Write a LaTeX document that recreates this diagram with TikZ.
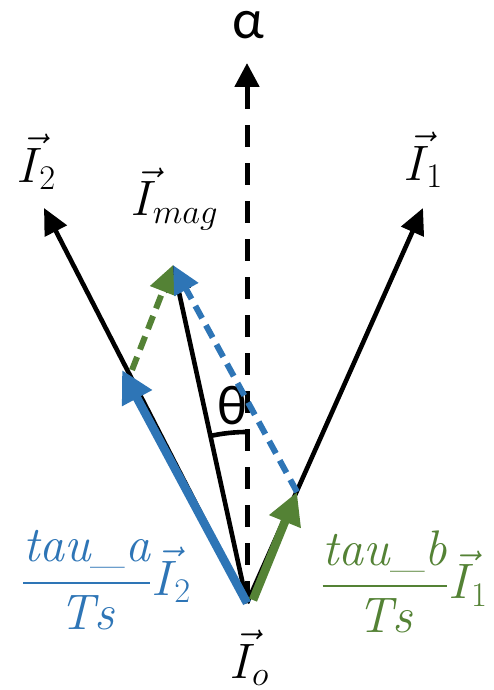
\documentclass[tikz,border=0pt]{standalone}
\usepackage{fontspec}
\usepackage{amsmath}
\usetikzlibrary{arrows.meta}
\newfontfamily\greekfont{Carlito}
\definecolor{cBlue}{HTML}{2E75B6}
\definecolor{cGreen}{HTML}{548235}

\begin{document}
\begin{tikzpicture}[x=0.5pt, y=0.5pt,
    vec/.style={line width=2.3pt, -{Triangle[length=13pt, width=12pt]}},
    comp/.style={line width=4.3pt, -{Triangle[length=16pt, width=16pt]}},
    part/.style={line width=3pt, dash pattern=on 7pt off 4pt, -{Triangle[length=14pt, width=13pt]}},
    lbl/.style={font=\fontsize{25}{28}\selectfont, inner sep=0pt},
    greek/.style={font=\greekfont\fontsize{28}{30}\selectfont, inner sep=0pt}]
  \useasboundingbox (0,0) rectangle (493,690);

  % Points of the vectors
  \coordinate (io) at (247,87);
  \coordinate (alpha) at (247,627);
  \coordinate (i2) at (44,482);
  \coordinate (i1) at (423,482);
  \coordinate (imag) at (173,425);
  \coordinate (ta) at (122,320);
  \coordinate (tb) at (297,198);
  \coordinate (gs) at (132,320);
  \coordinate (gb) at (253,90);

  % Axis alpha
  \draw[line width=2.5pt, dash pattern=on 11pt off 8pt, -{Triangle[length=12pt, width=12pt]}]
    (io) -- (alpha);
  \node[greek] (lalpha) at (248,665) {α};

  % Voltage vectors and the resulting vector
  \draw[vec] (io) -- (i2);
  \draw[vec] (io) -- (i1);
  \draw[vec] (io) -- (imag);
  \draw[line width=2.3pt] (io) ++(90:171) arc (90:102.3:171);
  \node[greek] (ltheta) at (232,284) {θ};

  % Components
  \draw[comp, cBlue] (io) -- (ta);
  \draw[comp, cGreen] (gb) -- (tb);
  \draw[part, cGreen] (gs) -- (imag);
  \draw[part, cBlue] (tb) -- (imag);

  % Labels
  \node[lbl] (li2) at (37,528) {$\vec{I}_2$};
  \node[lbl] (li1) at (424,530) {$\vec{I}_1$};
  \node[lbl] (limag) at (175,491) {$\vec{I}_{mag}$};
  \node[lbl] (lio) at (250,32) {$\vec{I}_o$};
  \node[lbl, text=cBlue] (lta) at (106,110) {$\dfrac{\mathit{tau\_a}}{\mathit{Ts}}\vec{I}_2$};
  \node[lbl, text=cGreen] (ltb) at (404,108) {$\dfrac{\mathit{tau\_b}}{\mathit{Ts}}\vec{I}_1$};
\end{tikzpicture}
\end{document}
